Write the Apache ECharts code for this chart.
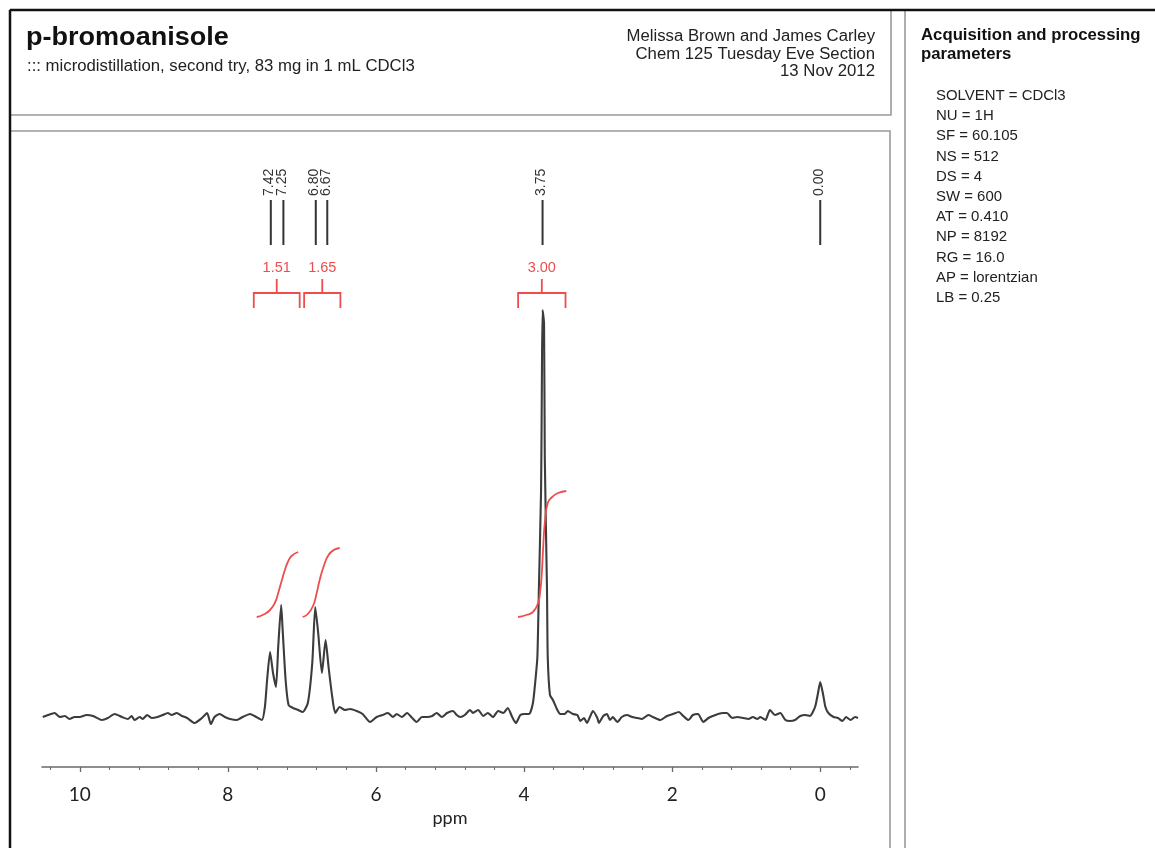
<!DOCTYPE html>
<html>
<head>
<meta charset="utf-8">
<script src="https://cdn.jsdelivr.net/npm/echarts@6/dist/echarts.min.js"></script>
<style>
html,body{margin:0;padding:0;background:#fff;}
#chart{width:1155px;height:848px;}
</style>
</head>
<body>
<div id="chart"></div>
<script>
// ---------- data ----------
const titleText = 'p-bromoanisole';
const subtitleText = '::: microdistillation, second try, 83 mg in 1 mL CDCl3';
const authorLines = ['Melissa Brown and James Carley', 'Chem 125 Tuesday Eve Section', '13 Nov 2012'];
const paramTitle = ['Acquisition and processing', 'parameters'];
const paramLines = ['SOLVENT = CDCl3', 'NU = 1H', 'SF = 60.105', 'NS = 512', 'DS = 4', 'SW = 600',
  'AT = 0.410', 'NP = 8192', 'RG = 16.0', 'AP = lorentzian', 'LB = 0.25'];

const majorTicks = [0, 2, 4, 6, 8, 10];
const minorTicks = [-0.4, 0, 0.4, 0.8, 1.2, 1.6, 2, 2.4, 2.8, 3.2, 3.6, 4, 4.4, 4.8, 5.2, 5.6, 6,
  6.4, 6.8, 7.2, 7.6, 8, 8.4, 8.8, 9.2, 9.6, 10, 10.4];

// spectrum (ppm, intensity a.u.)
const specPpm = [10.50,10.43,10.34,10.27,10.20,10.14,10.07,10.00,9.91,9.82,9.70,9.62,9.53,9.43,9.35,9.30,9.26,9.19,9.15,9.09,
  9.03,8.95,8.88,8.81,8.76,8.69,8.62,8.55,8.45,8.35,8.28,8.23,8.18,8.11,8.04,7.97,7.88,7.80,7.70,7.64,
  7.54,7.50,7.47,7.43,7.39,7.35,7.32,7.28,7.26,7.22,7.18,7.12,7.05,6.99,6.92,6.86,6.82,6.78,6.73,6.68,
  6.64,6.59,6.55,6.49,6.42,6.35,6.26,6.18,6.08,5.99,5.91,5.84,5.77,5.72,5.65,5.58,5.51,5.45,5.38,5.31,
  5.24,5.18,5.11,5.04,4.96,4.91,4.86,4.80,4.73,4.69,4.62,4.55,4.49,4.42,4.35,4.28,4.22,4.16,4.11,4.05,
  3.99,3.93,3.88,3.85,3.82,3.80,3.77,3.76,3.75,3.73,3.72,3.69,3.68,3.65,3.61,3.55,3.51,3.45,3.41,3.34,
  3.28,3.24,3.19,3.15,3.11,3.07,3.01,2.99,2.93,2.88,2.84,2.80,2.74,2.68,2.61,2.54,2.47,2.41,2.32,2.26,
  2.16,2.07,1.99,1.91,1.85,1.78,1.72,1.65,1.58,1.51,1.45,1.38,1.31,1.26,1.19,1.12,1.04,0.97,0.91,0.85,
  0.81,0.74,0.68,0.61,0.54,0.47,0.41,0.34,0.27,0.20,0.14,0.07,0.03,0.00,-0.04,-0.07,-0.11,-0.18,-0.24,-0.30,
  -0.35,-0.41,-0.47,-0.51];
const specInt = [0,2,4,0,1,-2,0,0,2,1,-3,-1,3,0,-2,1,-3,0,-2,2,
  -1,0,2,4,2,4,1,-1,-6,-1,4,-7,0,3,0,-2,-3,0,3,1,
  -3,10,37,65,44,30,70,112,87,37,12,9,7,5,14,54,110,84,44,77,
  50,20,4,10,7,8,6,3,-5,0,2,4,0,3,0,4,-1,-5,0,0,
  1,4,0,4,6,2,0,2,7,4,7,1,4,0,6,4,9,0,-6,2,
  3,3,14,34,60,127,227,327,407,394,260,127,60,22,17,7,3,3,6,3,
  2,-4,-1,-6,0,6,-1,-6,1,3,-3,0,-5,0,2,0,-1,-2,2,0,
  -3,1,3,5,1,-3,2,3,-5,-1,1,3,4,4,-1,0,-1,-2,0,-2,
  0,-3,7,2,4,-3,-4,-3,1,2,1,10,24,35,22,10,4,0,-1,-4,
  0,-3,0,-1];

// integral curves
const int1Ppm = [7.61,7.53,7.43,7.36,7.32,7.27,7.23,7.19,7.14,7.05];
const int1Val = [100,102,107,115,124,137,147,155,161,165];
const int2Ppm = [6.99,6.92,6.85,6.80,6.76,6.70,6.64,6.57,6.49];
const int2Val = [100,103,111,124,137,152,162,167,169];
const int3Ppm = [4.08,3.97,3.88,3.81,3.78,3.76,3.74,3.72,3.68,3.62,3.54,3.43];
const int3Val = [100,102,105,114,127,144,172,194,214,220,224,226];

// peak picks
const peakPpm = [7.42, 7.25, 6.80, 6.67, 3.75, 0.00];
const peakText = ['7.42', '7.25', '6.80', '6.67', '3.75', '0.00'];

// integral regions
const intFrom = [7.65, 6.97, 4.08];
const intTo = [7.03, 6.48, 3.44];
const intText = ['1.51', '1.65', '3.00'];

// ---------- chart ----------
const chart = echarts.init(document.getElementById('chart'), null, {renderer: 'canvas'});
const RED = '#ee4d4d';
const FONT = '"Liberation Sans", Arial, sans-serif';
const AXFONT = 'Lato, "Open Sans", sans-serif';
const MIN_LABEL_GAP = 11.5;

const zip = (a, b) => a.map((v, i) => [v, b[i]]);

const frame = [
  {type: 'rect', shape: {x: 10, y: 10, width: 881, height: 105}, style: {fill: 'none', stroke: '#9a9a9a', lineWidth: 1.6}, silent: true},
  {type: 'rect', shape: {x: 10, y: 131, width: 880, height: 740}, style: {fill: 'none', stroke: '#9a9a9a', lineWidth: 1.6}, silent: true},
  {type: 'line', shape: {x1: 905, y1: 10, x2: 905, y2: 848}, style: {stroke: '#9a9a9a', lineWidth: 1.6}, silent: true},
  {type: 'line', shape: {x1: 10, y1: 10, x2: 1155, y2: 10}, style: {stroke: '#111', lineWidth: 2.5}, silent: true},
  {type: 'line', shape: {x1: 10, y1: 10, x2: 10, y2: 848}, style: {stroke: '#111', lineWidth: 2.5}, silent: true},
  {type: 'text', x: 26, y: 51, scaleX: 1.04, style: {text: titleText, font: 'bold 26px ' + FONT, fill: '#111', verticalAlign: 'bottom'}},
  {type: 'text', x: 27, y: 67, scaleX: 1.06, style: {text: subtitleText, font: '15.8px ' + FONT, fill: '#222', verticalAlign: 'middle'}}
];
authorLines.forEach((t, i) => frame.push({type: 'text', x: 875, y: 37 + i * 17.5, scaleX: 1.06,
  style: {text: t, font: '15.8px ' + FONT, fill: '#222', align: 'right', verticalAlign: 'middle'}}));
paramTitle.forEach((t, i) => frame.push({type: 'text', x: 921, y: 36 + i * 19, scaleX: 1.06,
  style: {text: t, font: 'bold 15.8px ' + FONT, fill: '#111', verticalAlign: 'middle'}}));
paramLines.forEach((t, i) => frame.push({type: 'text', x: 936, y: 96 + i * 20.2, scaleX: 1.03,
  style: {text: t, font: '14.5px ' + FONT, fill: '#222', verticalAlign: 'middle'}}));

const xCommon = {type: 'value', min: -0.51, max: 10.51, inverse: true, gridIndex: 0, position: 'bottom', splitLine: {show: false}};

// spread label positions so close peak picks do not overlap
function spreadPositions(xs) {
  const out = xs.slice();
  for (let i = 1; i < out.length; i++) {
    const gap = out[i] - out[i - 1];
    if (gap < MIN_LABEL_GAP) {
      const d = (MIN_LABEL_GAP - gap) / 2;
      out[i - 1] -= d;
      out[i] += d;
    }
  }
  return out;
}

chart.setOption({
  animation: false,
  backgroundColor: '#fff',
  grid: {left: 42, right: 297, top: 150, bottom: 81, containLabel: false},
  xAxis: [
    Object.assign({}, xCommon, {
      axisLine: {show: true, onZero: false, lineStyle: {color: '#6a6a6a', width: 1.6}},
      axisTick: {show: true, customValues: majorTicks, length: 5, lineStyle: {color: '#6a6a6a', width: 1.3}},
      axisLabel: {show: true, customValues: majorTicks, margin: 18, fontSize: 19, color: '#222', fontFamily: AXFONT},
      name: 'ppm', nameLocation: 'middle', nameGap: 34,
      nameTextStyle: {fontSize: 18, color: '#222', fontFamily: AXFONT}
    }),
    Object.assign({}, xCommon, {
      axisLine: {show: false, onZero: false},
      axisTick: {show: true, customValues: minorTicks, length: 3, lineStyle: {color: '#6a6a6a', width: 1}},
      axisLabel: {show: false}
    })
  ],
  yAxis: {type: 'value', min: -50, max: 567, show: false},
  graphic: frame,
  series: [
    {type: 'line', data: zip(specPpm, specInt), showSymbol: false, smooth: 0.2,
      lineStyle: {color: '#3c3c3c', width: 2.1}, z: 3},
    {type: 'line', data: zip(int1Ppm, int1Val), showSymbol: false, smooth: true, lineStyle: {color: RED, width: 1.8}, z: 4},
    {type: 'line', data: zip(int2Ppm, int2Val), showSymbol: false, smooth: true, lineStyle: {color: RED, width: 1.8}, z: 4},
    {type: 'line', data: zip(int3Ppm, int3Val), showSymbol: false, smooth: true, lineStyle: {color: RED, width: 1.8}, z: 4},
    {
      type: 'custom', data: peakPpm.map((p, i) => [p, i]),
      renderItem: function (params, api) {
        const i = api.value(1);
        const xs = spreadPositions(peakPpm.map(p => api.coord([p, 0])[0]));
        const x = xs[i];
        return {type: 'group', children: [
          {type: 'line', shape: {x1: x, y1: 200, x2: x, y2: 245}, style: {stroke: '#333', lineWidth: 2}},
          {type: 'text', x: x - 1.5, y: 196, rotation: Math.PI / 2,
            style: {text: peakText[i], font: '14px ' + FONT, fill: '#333', align: 'left', verticalAlign: 'middle'}}
        ]};
      }, z: 5
    },
    {
      type: 'custom', data: intFrom.map((p, i) => [p, i]),
      renderItem: function (params, api) {
        const i = api.value(1);
        const x1 = api.coord([intFrom[i], 0])[0];
        const x2 = api.coord([intTo[i], 0])[0];
        const xm = (x1 + x2) / 2;
        return {type: 'group', children: [
          {type: 'polyline', shape: {points: [[x1, 308], [x1, 293], [x2, 293], [x2, 308]]}, style: {stroke: RED, lineWidth: 1.8, fill: 'none'}},
          {type: 'line', shape: {x1: xm, y1: 279, x2: xm, y2: 293}, style: {stroke: RED, lineWidth: 1.8}},
          {type: 'text', x: xm, y: 268, style: {text: intText[i], font: '14.5px ' + FONT, fill: RED, align: 'center', verticalAlign: 'middle'}}
        ]};
      }, z: 5
    }
  ]
});
</script>
</body>
</html>
